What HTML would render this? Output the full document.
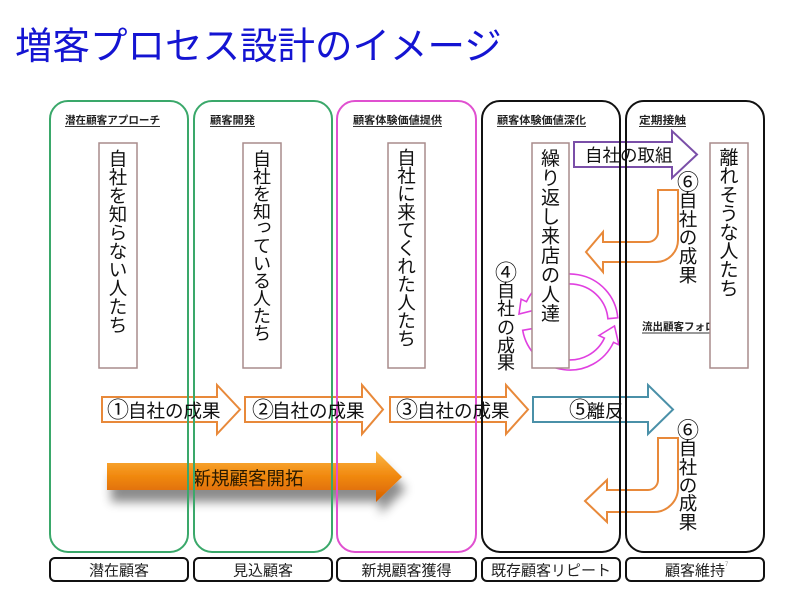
<!DOCTYPE html>
<html><head><meta charset="utf-8">
<style>
html,body{margin:0;padding:0;background:#fff;width:800px;height:600px;overflow:hidden}
svg{display:block}
text{font-family:"Liberation Sans","Noto Sans CJK JP",sans-serif}
</style></head>
<body>
<svg width="800" height="600" viewBox="0 0 800 600" xmlns="http://www.w3.org/2000/svg">
<defs>
<linearGradient id="og" x1="0" y1="0" x2="0" y2="1">
<stop offset="0" stop-color="#fbb848"/>
<stop offset="0.45" stop-color="#f28c12"/>
<stop offset="1" stop-color="#d65f00"/>
</linearGradient>
<filter id="sh" x="-10%" y="-30%" width="130%" height="200%">
<feDropShadow dx="4" dy="12" stdDeviation="5" flood-color="#000" flood-opacity="0.45"/>
</filter>
</defs>
<rect width="800" height="600" fill="#fff"/>

<!-- Title -->
<text x="15" y="59" font-size="37.5" fill="#1414d2">増客プロセス設計のイメージ</text>

<!-- big arrow -->
<path d="M107 463 L376 463 L376 451 L402 477 L376 502 L376 490 L107 490 Z" fill="url(#og)" filter="url(#sh)"/>
<text x="248" y="485" font-size="18.5" fill="#2a1a00" text-anchor="middle">新規顧客開拓</text>

<!-- outlined arrows -->
<g fill="#fff" stroke="#e8893a" stroke-width="2" stroke-linejoin="miter">
<path d="M102 397 L217 397 L217 385 L240 409.5 L217 434 L217 422 L102 422 Z"/>
<path d="M245 397 L362 397 L362 385 L383 409.5 L362 434 L362 422 L245 422 Z"/>
<path d="M390 397 L506 397 L506 385 L528 409.5 L506 434 L506 422 L390 422 Z"/>
<path d="M658 190 L678 190 L678 240 A22 22 0 0 1 656 262 L603 262 L603 272 L586 252 L603 232 L603 242 L648 242 A10 10 0 0 0 658 232 Z"/>
<path d="M658 438 L678 438 L678 488 A24 24 0 0 1 654 512 L607 512 L607 522 L585 501 L607 480 L607 490 L648 490 A10 10 0 0 0 658 480 Z"/>
</g>
<path d="M533 397 L648 397 L648 385 L673 409.5 L648 434 L648 422 L533 422 Z" fill="#fff" stroke="#4a90a8" stroke-width="2"/>
<path d="M574 142 L672 142 L672 131 L697 154.5 L672 178 L672 167 L574 167 Z" fill="#fff" stroke="#7a4fa8" stroke-width="2"/>

<!-- pink cycle arcs -->
<g fill="#fff" stroke="#e040e0" stroke-width="1.6">
<path d="M617.8 317.8 A48 48 0 0 0 526.5 301.7 L521.1 299.2 L519 314 L541 308.5 L535.6 305.9 A38 38 0 0 1 607.9 318.7 Z"/>
<path d="M522.7 330.3 A48 48 0 0 0 613.5 342.3 L618.9 344.8 L614.5 326 L599 335.5 L604.4 338.1 A38 38 0 0 1 532.6 328.6 Z"/>
</g>

<!-- panels -->
<g fill="none" stroke-width="2">
<rect x="50" y="101" width="138" height="451" rx="18" stroke="#3aa86a"/>
<rect x="194" y="101" width="138" height="451" rx="18" stroke="#3aa86a"/>
<rect x="337" y="101" width="139" height="451" rx="18" stroke="#e050d0"/>
<rect x="482" y="101" width="138" height="451" rx="18" stroke="#111"/>
<rect x="626" y="101" width="138" height="451" rx="18" stroke="#111"/>
</g>

<!-- header labels -->
<g font-size="10.5" font-weight="bold" fill="#222">
<text x="65" y="123.5" textLength="95" lengthAdjust="spacingAndGlyphs">潜在顧客アプローチ</text>
<text x="210" y="123.5" textLength="45" lengthAdjust="spacingAndGlyphs">顧客開発</text>
<text x="353" y="123.5" textLength="89" lengthAdjust="spacingAndGlyphs">顧客体験価値提供</text>
<text x="497" y="123.5" textLength="89" lengthAdjust="spacingAndGlyphs">顧客体験価値深化</text>
<text x="639" y="123.5" textLength="47" lengthAdjust="spacingAndGlyphs">定期接触</text>
<text x="642" y="330" textLength="84" lengthAdjust="spacingAndGlyphs">流出顧客フォロー</text>
</g>
<g stroke="#333" stroke-width="1">
<line x1="65" y1="126.5" x2="160" y2="126.5"/>
<line x1="210" y1="126.5" x2="255" y2="126.5"/>
<line x1="353" y1="126.5" x2="442" y2="126.5"/>
<line x1="497" y1="126.5" x2="586" y2="126.5"/>
<line x1="639" y1="126.5" x2="686" y2="126.5"/>
<line x1="642" y1="333" x2="726" y2="333"/>
</g>

<!-- vertical text boxes -->
<g fill="#fff" stroke="#a88c8c" stroke-width="1.5">
<rect x="99" y="143" width="38" height="225"/>
<rect x="243" y="143" width="38" height="225"/>
<rect x="388" y="143" width="37" height="225"/>
<rect x="532" y="143" width="37" height="225"/>
<rect x="710" y="143" width="38" height="225"/>
</g>

<g fill="#111" text-anchor="middle">
<text font-size="18.5"><tspan x="118" y="165.7">自</tspan><tspan x="118" y="184.2">社</tspan><tspan x="118" y="202.7">を</tspan><tspan x="118" y="221.2">知</tspan><tspan x="118" y="239.7">ら</tspan><tspan x="118" y="258.2">な</tspan><tspan x="118" y="276.7">い</tspan><tspan x="118" y="295.2">人</tspan><tspan x="118" y="313.7">た</tspan><tspan x="118" y="332.2">ち</tspan></text>
<text font-size="18"><tspan x="262" y="165.7">自</tspan><tspan x="262" y="183.1">社</tspan><tspan x="262" y="200.5">を</tspan><tspan x="262" y="217.9">知</tspan><tspan x="264" y="232">っ</tspan><tspan x="262" y="252.7">て</tspan><tspan x="262" y="270.1">い</tspan><tspan x="262" y="287.5">る</tspan><tspan x="262" y="304.9">人</tspan><tspan x="262" y="322.3">た</tspan><tspan x="262" y="339.7">ち</tspan></text>
<text font-size="18.5"><tspan x="406.5" y="164.5">自</tspan><tspan x="406.5" y="182.6">社</tspan><tspan x="406.5" y="200.7">に</tspan><tspan x="406.5" y="218.8">来</tspan><tspan x="406.5" y="236.9">て</tspan><tspan x="406.5" y="255">く</tspan><tspan x="406.5" y="273.1">れ</tspan><tspan x="406.5" y="291.2">た</tspan><tspan x="406.5" y="309.3">人</tspan><tspan x="406.5" y="327.4">た</tspan><tspan x="406.5" y="345.5">ち</tspan></text>
<text font-size="19"><tspan x="550.5" y="165">繰</tspan><tspan x="550.5" y="184.4">り</tspan><tspan x="550.5" y="203.8">返</tspan><tspan x="550.5" y="223.2">し</tspan><tspan x="550.5" y="242.6">来</tspan><tspan x="550.5" y="262">店</tspan><tspan x="550.5" y="281.4">の</tspan><tspan x="550.5" y="300.8">人</tspan><tspan x="550.5" y="320.2">達</tspan></text>
<text font-size="19"><tspan x="729" y="164">離</tspan><tspan x="729" y="182.7">れ</tspan><tspan x="729" y="201.4">そ</tspan><tspan x="729" y="220.1">う</tspan><tspan x="729" y="238.8">な</tspan><tspan x="729" y="257.5">人</tspan><tspan x="729" y="276.2">た</tspan><tspan x="729" y="294.9">ち</tspan></text>
<text font-size="18"><tspan x="506" y="280.5" font-size="22">④</tspan><tspan x="506" y="296.8">自</tspan><tspan x="506" y="314.8">社</tspan><tspan x="506" y="333.8">の</tspan><tspan x="506" y="351.8">成</tspan><tspan x="506" y="368.8">果</tspan></text>
<text font-size="18.5"><tspan x="688" y="190" font-size="22">⑥</tspan><tspan x="688" y="207">自</tspan><tspan x="688" y="226">社</tspan><tspan x="688" y="244">の</tspan><tspan x="688" y="263">成</tspan><tspan x="688" y="282">果</tspan></text>
<text font-size="18.5"><tspan x="688" y="438" font-size="22">⑥</tspan><tspan x="688" y="455">自</tspan><tspan x="688" y="474">社</tspan><tspan x="688" y="492">の</tspan><tspan x="688" y="510">成</tspan><tspan x="688" y="529">果</tspan></text>
</g>

<!-- arrow labels -->
<g fill="#111" font-size="18.5">
<text y="417.5"><tspan x="107" font-size="22">①</tspan><tspan x="128">自社の成果</tspan></text>
<text y="417.5"><tspan x="252" font-size="22">②</tspan><tspan x="272">自社の成果</tspan></text>
<text y="417.5"><tspan x="396" font-size="22">③</tspan><tspan x="417">自社の成果</tspan></text>
<text y="417.5"><tspan x="569" font-size="22">⑤</tspan><tspan x="587" font-size="18">離反</tspan></text>
<text x="585" y="161.6" font-size="17.5">自社の取組</text>
</g>

<!-- bottom labels -->
<g fill="#fff" stroke="#111" stroke-width="2">
<rect x="50" y="558" width="138" height="23" rx="5"/>
<rect x="194" y="558" width="138" height="23" rx="5"/>
<rect x="337" y="558" width="139" height="23" rx="5"/>
<rect x="482" y="558" width="138" height="23" rx="5"/>
<rect x="626" y="558" width="138" height="23" rx="5"/>
</g>
<g fill="#222" font-size="15" text-anchor="middle">
<text x="119" y="575.5">潜在顧客</text>
<text x="263" y="575.5">見込顧客</text>
<text x="406.5" y="575.5">新規顧客獲得</text>
<text x="551" y="575.5">既存顧客リピート</text>
<text x="695" y="575.5">顧客維持</text>
</g>
<text x="725" y="566" font-size="6" fill="#999">7</text>
</svg>
</body></html>
